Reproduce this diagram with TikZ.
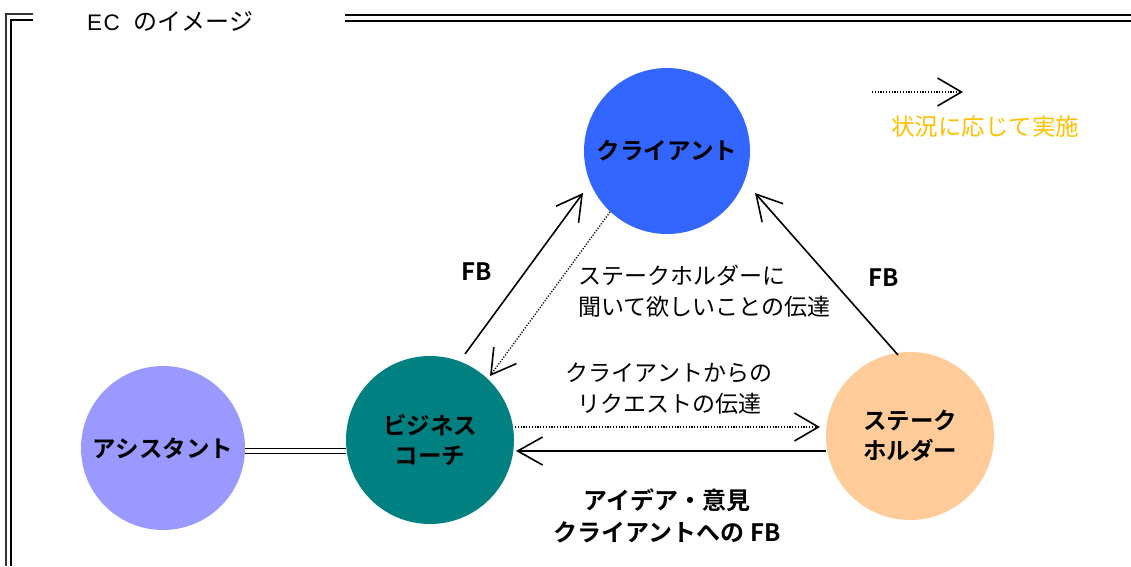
\documentclass[tikz,border=0pt]{standalone}
\usepackage{fontspec}
\setmainfont{Noto Sans CJK JP}[BoldFont={Noto Sans CJK JP Bold}]
\newfontfamily\latinsans{Liberation Sans}
\usetikzlibrary{arrows.meta}
\definecolor{cclient}{HTML}{3366FF}
\definecolor{cassist}{HTML}{9999FF}
\definecolor{ccoach}{HTML}{008080}
\definecolor{cstake}{HTML}{FFCC99}
\definecolor{cgold}{HTML}{FFC000}
\tikzset{
  ball/.style={circle, minimum size=168pt, inner sep=0pt, align=center, font=\fontsize{23.5}{30}\selectfont\bfseries},
  lbl/.style={inner sep=0pt, font=\fontsize{23}{31}\selectfont},
  blbl/.style={inner sep=0pt, font=\fontsize{24}{32}\selectfont\bfseries},
  solidarr/.style={line width=1.6pt, -{Straight Barb[length=25pt,width=28pt,line width=1.6pt]}},
  dotarr/.style={line width=1.3pt, dash pattern=on 1.2pt off 1.6pt, -{Straight Barb[length=24pt,width=28pt,line width=1.6pt]}},
}
\begin{document}
\begin{tikzpicture}[x=1pt,y=-1pt]
\useasboundingbox (0,0) rectangle (1131,566);
% frame
\draw[line width=1.4pt, black!80] (33,14) -- (6,14) -- (6,566);
\draw[line width=2.8pt] (33,20) -- (11,20) -- (11,566);
\draw[line width=1.6pt] (345,15) -- (1131,15);
\draw[line width=2.4pt] (345,21) -- (1131,21);
\node[lbl, anchor=west, font=\fontsize{24}{30}\selectfont] (title) at (87,21)
  {{\latinsans\fontsize{22.5}{30}\selectfont E\kern1.5pt C}\kern14pt のイメージ};
% circles
\node[ball, fill=cclient, minimum size=166pt] (client) at (667,151) {クライアント};
\node[ball, fill=cassist, minimum size=164pt] (asst) at (163,448) {アシスタント};
\node[ball, fill=ccoach] (coach) at (430,440) {ビジネス\\コーチ};
\node[ball, fill=cstake] (stake) at (910,436) {ステーク\\ホルダー};
% double connector
\coordinate (yline) at (0,451);
\draw[line width=1.6pt] ([yshift=-2.5]asst.east |- yline) -- ([yshift=-2.5]coach.west |- yline);
\draw[line width=1.6pt] ([yshift=2.5]asst.east |- yline) -- ([yshift=2.5]coach.west |- yline);
% arrows
\draw[solidarr] ([shift={(35,-86)}]coach.center) -- ([shift={(-84,42)}]client.center);
\draw[dotarr] ([shift={(-57,61)}]client.center) -- ([shift={(60,-64)}]coach.center);
\draw[solidarr] ([shift={(-12,-81)}]stake.center) -- ([shift={(88,42)}]client.center);
\draw[dotarr] ([shift={(85,-13)}]coach.center) -- ([shift={(-90,-9)}]stake.center);
\draw[solidarr] ([shift={(-84,15)}]stake.center) -- ([shift={(86,11)}]coach.center);
% labels
\node[blbl] (fb1) at (477,272) {FB};
\node[blbl] (fb2) at (884,278) {FB};
\node[lbl, align=left, anchor=west] (msg1) at (578,291) {ステークホルダーに\\聞いて欲しいことの伝達};
\node[lbl, align=center] (msg2) at (669,389) {クライアントからの\\リクエストの伝達};
\node[blbl, align=center] (msg3) at (667,516) {アイデア・意見\\クライアントへの FB};
% legend
\coordinate (lg1) at (872,92);
\coordinate (lg2) at (963,92);
\draw[dotarr] (lg1) -- (lg2);
\node[lbl, text=cgold, font=\fontsize{23.5}{30}\selectfont] (lgtext) at (985,127) {状況に応じて実施};
\end{tikzpicture}
\end{document}
